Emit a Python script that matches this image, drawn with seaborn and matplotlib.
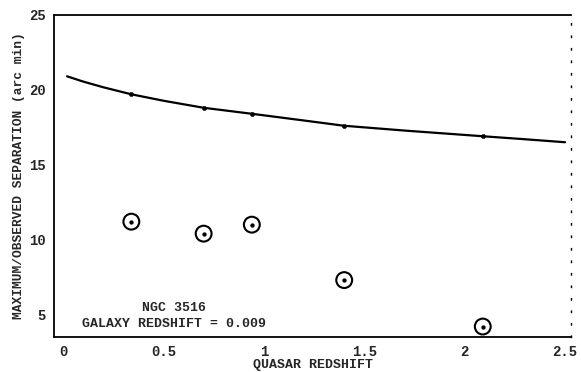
import numpy as np
import pandas as pd
import seaborn as sns
import matplotlib.pyplot as plt

# predicted maximum separation curve
curve_z = [0.02, 0.10, 0.20, 0.34, 0.50, 0.70, 0.94, 1.20, 1.40, 1.70, 2.09, 2.30, 2.50]
curve_sep = [20.9, 20.55, 20.17, 19.7, 19.27, 18.8, 18.4, 17.95, 17.6, 17.28, 16.9, 16.7, 16.5]

# marked points on the curve (quasar redshifts)
quasar_z = [0.34, 0.70, 0.94, 1.40, 2.09]
max_sep = [19.7, 18.8, 18.4, 17.6, 16.9]
# observed separations
obs_sep = [11.2, 10.4, 11.0, 7.3, 4.2]

xticks = [0, 0.5, 1, 1.5, 2, 2.5]
xticklabels = ['0', '0.5', '1', '1.5', '2', '2.5']
yticks = [5, 10, 15, 20, 25]

sns.set_style('white')
plt.rcParams['font.family'] = ['Liberation Mono', 'DejaVu Sans Mono']
plt.rcParams['font.weight'] = 'bold'

fig = plt.figure(figsize=(5.81, 3.72), dpi=100)
ax = fig.add_axes([0.093, 0.094, 0.89, 0.866])

curve = pd.DataFrame({'z': curve_z, 'sep': curve_sep})
sns.lineplot(data=curve, x='z', y='sep', color='black', linewidth=1.6, ax=ax)

pts = pd.DataFrame({'z': quasar_z, 'max': max_sep, 'obs': obs_sep})
sns.scatterplot(data=pts, x='z', y='max', color='black', s=10, marker='o',
                edgecolor='black', ax=ax, zorder=3)
sns.scatterplot(data=pts, x='z', y='obs', s=130, marker='o', facecolor='none',
                edgecolor='black', linewidth=1.5, ax=ax, zorder=3)
sns.scatterplot(data=pts, x='z', y='obs', s=8, marker='o', color='black',
                edgecolor='black', ax=ax, zorder=4)

ax.set_xlim(-0.045, 2.53)
ax.set_ylim(3.5, 25)
ax.set_xticks(xticks)
ax.set_xticklabels(xticklabels)
ax.set_yticks(yticks)
ax.tick_params(axis='both', labelsize=10, length=3, width=1, color='black', pad=3)
ax.tick_params(axis='x', direction='in', pad=6)
ax.tick_params(axis='y', direction='out')

for side in ['left', 'bottom', 'top']:
    ax.spines[side].set_color('black')
    ax.spines[side].set_linewidth(1.3)
ax.spines['right'].set_color('black')
ax.spines['right'].set_linewidth(1.0)
ax.spines['right'].set_linestyle((0, (1, 8)))

ax.set_xlabel('QUASAR REDSHIFT', fontsize=9.5, fontweight='bold', labelpad=0)
ax.set_ylabel('MAXIMUM/OBSERVED SEPARATION (arc min)', fontsize=9.3,
              fontweight='bold', labelpad=3)

ax.text(0.55, 5.45, 'NGC 3516', fontsize=9.5, fontweight='bold', ha='center', va='center')
ax.text(0.55, 4.4, 'GALAXY REDSHIFT = 0.009', fontsize=9.5, fontweight='bold',
        ha='center', va='center')

fig.savefig('out.png', dpi=100)
plt.close(fig)
